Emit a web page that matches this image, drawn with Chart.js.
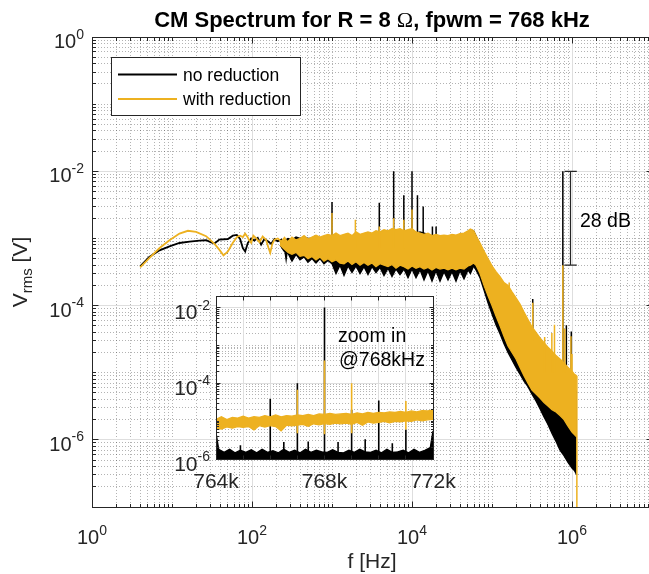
<!DOCTYPE html>
<html>
<head>
<meta charset="utf-8">
<script src="https://cdn.jsdelivr.net/npm/chart.js@4.4.0/dist/chart.umd.min.js"></script>
<style>
  html, body { margin: 0; padding: 0; overflow: hidden; background: #fff; }
  #wrap { position: relative; width: 649px; height: 574px; overflow: hidden; }
  #mainChart { position: absolute; left: 0; top: 0; }
  #zoomChart { position: absolute; left: 150px; top: 280px; }
</style>
</head>
<body>
<div id="wrap">
  <canvas id="mainChart" width="660" height="574"></canvas>
  <canvas id="zoomChart" width="310" height="215"></canvas>
</div>
<script>
const FONT = '"Liberation Sans", Arial, Helvetica, sans-serif'
const SERIF = '"Liberation Serif", "Times New Roman", serif'
const BLACK = '#000000'
const ORANGE = '#EDB120'
const AXIS = '#262626'
const MAJOR_GRID = '#dedede'
const MINOR_GRID = 'rgba(38,38,38,0.35)'

const seriesNames = ['no reduction', 'with reduction']
const seriesColors = [BLACK, ORANGE]
const xTickExp = [0, 2, 4, 6]
const yTickExp = [0, -2, -4, -6]

// low frequency part, single traces (Hz, Vrms)
const lfBlackF = [4, 5.2, 7, 9.3, 12.4, 16.6, 22, 26.7, 30.9, 34, 39, 50, 57.6, 64.6, 71, 76.8, 82.2, 88.7, 97.7, 107, 118, 130, 143, 158, 174, 191, 210, 232, 255, 267, 281, 309, 340, 374, 393]
const lfBlackV = [3.85e-4, 5.3e-4, 6.65e-4, 7.6e-4, 8.55e-4, 8.95e-4, 9.3e-4, 9.4e-4, 8.75e-4, 8.4e-4, 9.6e-4, 9.8e-4, 1.1e-3, 1.13e-3, 9.8e-4, 7.2e-4, 6.4e-4, 8.55e-4, 1.0e-3, 9.3e-4, 1.02e-3, 8.1e-4, 9.8e-4, 9.1e-4, 8.3e-4, 9.8e-4, 9.1e-4, 9.6e-4, 7.6e-4, 5.1e-4, 8.1e-4, 7.2e-4, 8.55e-4, 6.4e-4, 8.1e-4]
const lfOrangeF = [4, 5.2, 7, 9.3, 12.4, 15.8, 20, 26.7, 34, 39, 44, 50, 57.6, 65, 71, 77, 82, 88, 91, 97.7, 104, 113, 124, 136, 150, 161, 169, 179, 191, 210, 232, 255, 280, 310, 340, 375]
const lfOrangeV = [3.7e-4, 5.1e-4, 7.2e-4, 9.4e-4, 1.18e-3, 1.3e-3, 1.25e-3, 1.08e-3, 8.3e-4, 6.8e-4, 5.6e-4, 6.4e-4, 8.6e-4, 1.05e-3, 1.1e-3, 1.05e-3, 1.18e-3, 1.05e-3, 9.6e-4, 8.6e-4, 1.1e-3, 1.0e-3, 8.8e-4, 1.07e-3, 9.5e-4, 7.2e-4, 6.1e-4, 8.2e-4, 9.6e-4, 1.0e-3, 9.0e-4, 1.02e-3, 8.5e-4, 9.8e-4, 8.0e-4, 9.5e-4]

// noisy band: upper and lower envelope of each trace
const bandF = [224, 251, 282, 316, 355, 398, 447, 501, 562, 631, 708, 794, 891,
  1000, 1122, 1259, 1413, 1585, 1778, 1995, 2239, 2512, 2818, 3162, 3548, 3981, 4467, 5012, 5623, 6310, 7079, 7943, 8913,
  10000, 11220, 12589, 14125, 15849, 17783, 19953, 22387, 25119, 28184, 31623, 35481, 39811, 44668, 50119, 53703, 58884, 63096,
  70795, 79433, 89125, 100000, 112202, 125893, 141254, 158489, 177828, 199526, 223872, 251189, 281838, 316228, 354813, 398107, 446684, 501187, 562341, 630957, 707946, 794328, 891251,
  1000000, 1071519, 1148154]
const orangeHi = [8.8e-4, 9.5e-4, 9.0e-4, 1.05e-3, 9.5e-4, 1.0e-3, 1.1e-3, 9.8e-4, 1.05e-3, 1.12e-3, 1.05e-3, 1.1e-3, 1.15e-3,
  1.1e-3, 1.2e-3, 1.1e-3, 1.15e-3, 1.2e-3, 1.1e-3, 1.25e-3, 1.15e-3, 1.2e-3, 1.25e-3, 1.2e-3, 1.3e-3, 1.25e-3, 1.35e-3, 1.3e-3, 1.4e-3, 1.35e-3, 1.4e-3, 1.3e-3, 1.35e-3,
  1.4e-3, 1.25e-3, 1.2e-3, 1.15e-3, 1.2e-3, 1.1e-3, 1.15e-3, 1.1e-3, 1.12e-3, 1.1e-3, 1.15e-3, 1.12e-3, 1.18e-3, 1.2e-3, 1.3e-3, 1.38e-3, 1.3e-3, 1.1e-3,
  8.5e-4, 6.5e-4, 5.0e-4, 3.9e-4, 3.2e-4, 2.7e-4, 2.2e-4, 2.0e-4, 1.6e-4, 1.3e-4, 1.05e-4, 8.0e-5, 6.2e-5, 4.8e-5, 4.0e-5, 3.3e-5, 2.8e-5, 2.4e-5, 2.1e-5, 1.8e-5, 1.6e-5, 1.4e-5, 1.2e-5,
  1.05e-5, 9.5e-6, 9.0e-6]
const orangeLo = [8.0e-4, 7.0e-4, 6.2e-4, 5.8e-4, 6.2e-4, 5.4e-4, 5.6e-4, 5.0e-4, 5.4e-4, 4.8e-4, 5.3e-4, 4.6e-4, 5.0e-4,
  4.5e-4, 4.8e-4, 4.3e-4, 4.2e-4, 4.6e-4, 4.1e-4, 4.5e-4, 4.0e-4, 4.4e-4, 4.0e-4, 4.3e-4, 3.8e-4, 4.2e-4, 4.0e-4, 3.8e-4, 4.1e-4, 3.6e-4, 4.0e-4, 3.8e-4, 3.5e-4,
  3.9e-4, 3.6e-4, 3.8e-4, 3.5e-4, 3.7e-4, 3.4e-4, 3.7e-4, 3.5e-4, 3.6e-4, 3.4e-4, 3.6e-4, 3.4e-4, 3.6e-4, 3.5e-4, 3.9e-4, 4.0e-4, 4.3e-4, 4.0e-4,
  3.0e-4, 2.0e-4, 1.4e-4, 1.0e-4, 7.0e-5, 5.0e-5, 3.5e-5, 2.5e-5, 2.0e-5, 1.6e-5, 1.2e-5, 9.0e-6, 7.0e-6, 5.5e-6, 4.8e-6, 4.2e-6, 3.6e-6, 3.2e-6, 2.8e-6, 2.6e-6, 2.3e-6, 2.0e-6, 1.6e-6,
  1.3e-6, 1.2e-6, 1.1e-6]
const blackHi = [8.6e-4, 9.2e-4, 1.0e-3, 9.5e-4, 1.05e-3, 1.0e-3, 1.05e-3, 1.0e-3, 1.0e-3, 1.05e-3, 1.0e-3, 1.05e-3, 1.1e-3,
  1.05e-3, 1.1e-3, 1.05e-3, 1.1e-3, 1.15e-3, 1.05e-3, 1.2e-3, 1.1e-3, 1.15e-3, 1.2e-3, 1.15e-3, 1.25e-3, 1.2e-3, 1.3e-3, 1.25e-3, 1.3e-3, 1.3e-3, 1.35e-3, 1.25e-3, 1.3e-3,
  1.35e-3, 1.2e-3, 1.25e-3, 1.2e-3, 1.15e-3, 1.1e-3, 1.1e-3, 1.05e-3, 1.1e-3, 1.05e-3, 1.1e-3, 1.05e-3, 1.1e-3, 1.15e-3, 1.25e-3, 1.35e-3, 1.3e-3, 1.1e-3,
  8.0e-4, 6.0e-4, 4.5e-4, 3.5e-4, 2.8e-4, 2.3e-4, 1.9e-4, 1.6e-4, 1.3e-4, 1.05e-4, 8.5e-5, 6.5e-5, 5.2e-5, 4.0e-5, 3.3e-5, 2.7e-5, 2.2e-5, 1.9e-5, 1.6e-5, 1.4e-5, 1.2e-5, 1.0e-5, 8.5e-6,
  7.0e-6, 6.0e-6, 5.0e-6]
const blackLo = [8.0e-4, 6.5e-4, 6.0e-4, 4.6e-4, 5.8e-4, 4.8e-4, 5.3e-4, 4.4e-4, 5.0e-4, 4.3e-4, 5.0e-4, 4.2e-4, 4.7e-4,
  4.2e-4, 3.0e-4, 4.0e-4, 2.8e-4, 3.9e-4, 3.1e-4, 3.9e-4, 3.0e-4, 3.8e-4, 2.9e-4, 3.8e-4, 3.1e-4, 3.7e-4, 2.8e-4, 3.6e-4, 2.7e-4, 3.5e-4, 2.9e-4, 3.5e-4, 2.6e-4,
  3.5e-4, 2.6e-4, 3.4e-4, 2.4e-4, 3.3e-4, 2.3e-4, 3.3e-4, 2.3e-4, 3.2e-4, 2.4e-4, 3.2e-4, 2.3e-4, 3.3e-4, 2.5e-4, 3.4e-4, 3.0e-4, 3.9e-4, 3.4e-4,
  2.6e-4, 1.7e-4, 1.1e-4, 7.5e-5, 5.2e-5, 3.8e-5, 2.7e-5, 2.0e-5, 1.55e-5, 1.2e-5, 9.5e-6, 7.5e-6, 6.2e-6, 4.8e-6, 3.8e-6, 2.9e-6, 2.2e-6, 1.7e-6, 1.25e-6, 9.5e-7, 7.0e-7, 5.8e-7, 4.6e-7,
  3.8e-7, 3.5e-7, 3.0e-7]

// harmonic lines (frequency, peak, foot)
const blackSpikeF = [1000, 3900, 5900, 7900, 10000, 11700, 13800, 18000, 20000, 323000, 768000, 850000, 980000]
const blackSpikeTop = [3.5e-3, 3.4e-3, 1.0e-2, 4.4e-3, 1.0e-2, 4.4e-3, 3.0e-3, 1.5e-3, 1.5e-3, 1.25e-4, 1.0e-2, 5.1e-5, 4.1e-5]
const blackSpikeFoot = [6e-4, 6e-4, 6e-4, 6e-4, 6e-4, 6e-4, 6e-4, 6e-4, 6e-4, 2e-5, 5e-6, 3e-6, 2e-6]
const orangeSpikeF = [1000, 1960, 3900, 5900, 7900, 10000, 164000, 323000, 455000, 560000, 604000, 768000, 812000, 970000, 1000000, 1150000]
const orangeSpikeTop = [2.4e-3, 1.9e-3, 1.5e-3, 2.0e-3, 1.9e-3, 2.7e-3, 2.2e-4, 1.1e-4, 3.4e-5, 3.9e-5, 5.2e-5, 4.0e-4, 4.5e-5, 3.5e-5, 1.9e-5, 1e-9]
const orangeSpikeFoot = [7e-4, 7e-4, 7e-4, 7e-4, 7e-4, 7e-4, 1.5e-4, 3e-5, 1e-5, 1e-5, 1e-5, 1e-5, 1e-5, 1e-5, 1e-5, 9e-6]

// 28 dB bracket
const bracketCapF = [805000, 1148000]
const bracketF = 958000
const bracketTop = 1e-2
const bracketBottom = 4e-4

// zoomed view around 768 kHz (kHz, Vrms)
const zoomTickK = [764, 765, 766, 767, 768, 769, 770, 771, 772]
const zoomLabelK = [764, 768, 772]
const zoomYExp = [-2, -4, -6]
const zoomBlackF = [764.0, 764.1, 764.3, 764.5, 764.7, 764.9, 765.1, 765.3, 765.5, 765.7, 765.9, 766.1, 766.3, 766.5, 766.7, 766.9, 767.1, 767.3, 767.5, 767.7, 767.9,
  768.1, 768.3, 768.5, 768.7, 768.9, 769.1, 769.3, 769.5, 769.7, 769.9, 770.1, 770.3, 770.5, 770.7, 770.9, 771.1, 771.3, 771.5, 771.7, 771.9, 772.0]
const zoomBlackV = [5.0e-6, 1.8e-6, 1.5e-6, 1.8e-6, 1.45e-6, 1.7e-6, 1.5e-6, 1.75e-6, 1.45e-6, 1.8e-6, 1.5e-6, 1.65e-6, 1.45e-6, 1.8e-6, 1.5e-6, 1.7e-6, 1.45e-6, 1.8e-6, 1.5e-6, 1.7e-6, 1.55e-6,
  1.5e-6, 1.75e-6, 1.5e-6, 1.45e-6, 1.7e-6, 1.5e-6, 1.8e-6, 1.55e-6, 1.5e-6, 1.7e-6, 1.45e-6, 1.8e-6, 1.5e-6, 1.55e-6, 1.7e-6, 1.45e-6, 1.8e-6, 1.5e-6, 1.7e-6, 2.0e-6, 5.5e-6]
const zoomOrangeF = [764.0, 764.2, 764.4, 764.6, 764.8, 765.0, 765.2, 765.4, 765.6, 765.8, 766.0, 766.2, 766.4, 766.6, 766.8, 767.0, 767.2, 767.4, 767.6, 767.8,
  768.0, 768.2, 768.4, 768.6, 768.8, 769.0, 769.2, 769.4, 769.6, 769.8, 770.0, 770.2, 770.4, 770.6, 770.8, 771.0, 771.2, 771.4, 771.6, 771.8, 772.0]
const zoomOrangeHi = [1.1e-5, 1.3e-5, 1.1e-5, 1.25e-5, 1.2e-5, 1.35e-5, 1.2e-5, 1.3e-5, 1.25e-5, 1.4e-5, 1.3e-5, 1.45e-5, 1.3e-5, 1.4e-5, 1.35e-5, 1.45e-5, 1.4e-5, 1.5e-5, 1.4e-5, 1.55e-5,
  1.5e-5, 1.6e-5, 1.5e-5, 1.55e-5, 1.6e-5, 1.5e-5, 1.65e-5, 1.55e-5, 1.7e-5, 1.6e-5, 1.7e-5, 1.65e-5, 1.75e-5, 1.7e-5, 1.8e-5, 1.7e-5, 1.85e-5, 1.75e-5, 1.9e-5, 1.85e-5, 1.95e-5]
const zoomOrangeLo = [6.5e-6, 6.2e-6, 7.0e-6, 6.5e-6, 7.2e-6, 6.8e-6, 7.2e-6, 5.8e-6, 7.6e-6, 7.0e-6, 7.6e-6, 7.2e-6, 5.5e-6, 7.8e-6, 7.5e-6, 7.8e-6, 8.2e-6, 7.3e-6, 8.5e-6, 8.0e-6,
  8.6e-6, 8.2e-6, 8.8e-6, 8.5e-6, 8.8e-6, 8.2e-6, 9.2e-6, 7.8e-6, 9.5e-6, 8.8e-6, 9.2e-6, 9.8e-6, 9.0e-6, 9.8e-6, 9.5e-6, 1.02e-5, 9.8e-6, 1.08e-5, 1.02e-5, 1.08e-5, 1.12e-5]
const zoomBlackSpikeF = [764.9, 766, 766.5, 767, 767.4, 768, 768.5, 769, 769.5, 770, 770.5, 771]
const zoomBlackSpikeTop = [2.3e-6, 3.9e-5, 2.8e-6, 1.0e-4, 2.9e-6, 1.0e-2, 2.8e-6, 2.0e-5, 3.3e-6, 3.5e-5, 2.6e-6, 6e-6]
const zoomOrangeSpikeF = [767, 768, 769, 771]
const zoomOrangeSpikeTop = [6.7e-5, 4.0e-4, 1.0e-4, 3.4e-5]
const zoomOrangeSpikeFoot = [4.8e-6, 4.5e-6, 4.8e-6, 6e-6]

const pts = (xs, ys) => xs.map((x, i) => ({ x, y: ys[i] }))

function spikes(xs, tops, foots) {
  const out = []
  xs.forEach((x, i) => {
    const foot = Array.isArray(foots) ? foots[i] : foots
    out.push({ x, y: foot }, { x, y: tops[i] }, { x, y: null })
  })
  return out
}

function lineSet(data, color, extra) {
  return Object.assign({
    data,
    borderColor: color,
    backgroundColor: color,
    borderWidth: 1.3,
    pointRadius: 0,
    tension: 0,
    fill: false,
  }, extra)
}

function logSteps(minExp, maxExp) {
  const out = []
  for (let e = minExp; e < maxExp; e++) {
    for (let k = 1; k < 10; k++) out.push({ v: k * Math.pow(10, e), k, e })
  }
  out.push({ v: Math.pow(10, maxExp), k: 1, e: maxExp })
  return out
}

const crisp = (p) => Math.round(p - 0.5) + 0.5

function drawGrid(ctx, a, xs, ys) {
  ctx.lineWidth = 1
  ctx.setLineDash([1, 2])
  ctx.strokeStyle = MINOR_GRID
  xs.filter((t) => !t.major).forEach((t) => {
    ctx.beginPath(); ctx.moveTo(crisp(t.px), a.top); ctx.lineTo(crisp(t.px), a.bottom); ctx.stroke()
  })
  ys.filter((t) => !t.major).forEach((t) => {
    ctx.beginPath(); ctx.moveTo(a.left, crisp(t.px)); ctx.lineTo(a.right, crisp(t.px)); ctx.stroke()
  })
  ctx.setLineDash([])
  ctx.strokeStyle = MAJOR_GRID
  xs.filter((t) => t.major).forEach((t) => {
    ctx.beginPath(); ctx.moveTo(crisp(t.px), a.top); ctx.lineTo(crisp(t.px), a.bottom); ctx.stroke()
  })
  ys.filter((t) => t.major).forEach((t) => {
    ctx.beginPath(); ctx.moveTo(a.left, crisp(t.px)); ctx.lineTo(a.right, crisp(t.px)); ctx.stroke()
  })
}

function drawFrame(ctx, a, xs, ys, majorLen, minorLen) {
  ctx.setLineDash([])
  ctx.strokeStyle = AXIS
  ctx.lineWidth = 1
  const l = crisp(a.left), r = crisp(a.right), t = crisp(a.top), b = crisp(a.bottom)
  ctx.beginPath()
  xs.forEach((tk) => {
    const len = tk.major ? majorLen : minorLen
    const px = crisp(tk.px)
    ctx.moveTo(px, b); ctx.lineTo(px, b - len)
    ctx.moveTo(px, t); ctx.lineTo(px, t + len)
  })
  ys.forEach((tk) => {
    const len = tk.major ? majorLen : minorLen
    const py = crisp(tk.px)
    ctx.moveTo(l, py); ctx.lineTo(l + len, py)
    ctx.moveTo(r, py); ctx.lineTo(r - len, py)
  })
  ctx.stroke()
  ctx.strokeRect(l, t, r - l, b - t)
}

function drawPow(ctx, px, base, align, exp, size, expSize) {
  const expText = String(exp)
  ctx.font = `${size}px ${FONT}`
  const w1 = ctx.measureText('10').width
  ctx.font = `${expSize}px ${FONT}`
  const w2 = ctx.measureText(expText).width
  const left = align === 'center' ? px - (w1 + w2) / 2 : px - (w1 + w2)
  ctx.fillStyle = AXIS
  ctx.textAlign = 'left'
  ctx.textBaseline = 'alphabetic'
  ctx.font = `${size}px ${FONT}`
  ctx.fillText('10', left, base)
  ctx.font = `${expSize}px ${FONT}`
  ctx.fillText(expText, left + w1, base - size * 0.47)
}

const mainAxes = {
  id: 'mainAxes',
  ticks(chart) {
    const { x, y } = chart.scales
    return {
      xs: logSteps(0, 7).map((s) => ({ px: x.getPixelForValue(s.v), major: s.k === 1 && s.e % 2 === 0 })),
      ys: logSteps(-7, 0).map((s) => ({ px: y.getPixelForValue(s.v), major: s.k === 1 && s.e % 2 === 0 })),
    }
  },
  beforeDatasetsDraw(chart) {
    const { ctx, chartArea: a } = chart
    const { xs, ys } = this.ticks(chart)
    ctx.save()
    drawGrid(ctx, a, xs, ys)
    ctx.restore()
  },
  afterDatasetsDraw(chart) {
    const { ctx, chartArea: a, scales } = chart
    const { xs, ys } = this.ticks(chart)
    ctx.save()
    drawFrame(ctx, a, xs, ys, 6, 3.5)

    xTickExp.forEach((e) => drawPow(ctx, scales.x.getPixelForValue(Math.pow(10, e)), 544, 'center', e, 20, 14))
    yTickExp.forEach((e) => drawPow(ctx, 84, scales.y.getPixelForValue(Math.pow(10, e)) + 11, 'right', e, 20, 14))

    // title
    const cx = (a.left + a.right) / 2
    const parts = [
      ['CM Spectrum for R = 8 ', `bold 22px ${FONT}`],
      ['\u03A9', `22px ${SERIF}`],
      [', fpwm = 768 kHz', `bold 22px ${FONT}`],
    ]
    let total = 0
    parts.forEach(([txt, font]) => { ctx.font = font; total += ctx.measureText(txt).width })
    let tx = cx - total / 2
    ctx.fillStyle = BLACK
    ctx.textAlign = 'left'
    parts.forEach(([txt, font]) => { ctx.font = font; ctx.fillText(txt, tx, 27); tx += ctx.measureText(txt).width })

    // axis labels
    ctx.fillStyle = AXIS
    ctx.font = `21px ${FONT}`
    ctx.textAlign = 'center'
    ctx.fillText('f [Hz]', cx, 568)

    ctx.save()
    ctx.translate(27, (a.top + a.bottom) / 2)
    ctx.rotate(-Math.PI / 2)
    ctx.textAlign = 'left'
    ctx.font = `21px ${FONT}`
    const wV = ctx.measureText('V').width
    const wB = ctx.measureText(' [V]').width
    ctx.font = `15px ${FONT}`
    const wS = ctx.measureText('rms').width
    const sx = -(wV + wS + wB) / 2
    ctx.font = `21px ${FONT}`
    ctx.fillText('V', sx, 0)
    ctx.fillText(' [V]', sx + wV + wS, 0)
    ctx.font = `15px ${FONT}`
    ctx.fillText('rms', sx + wV, 5)
    ctx.restore()

    // legend
    ctx.fillStyle = '#fff'
    ctx.fillRect(111.5, 57.5, 189, 58)
    ctx.strokeStyle = AXIS
    ctx.lineWidth = 1
    ctx.strokeRect(111.5, 57.5, 189, 58)
    seriesNames.forEach((name, i) => {
      const yy = 74.5 + i * 24.5
      ctx.strokeStyle = seriesColors[i]
      ctx.lineWidth = 2
      ctx.beginPath(); ctx.moveTo(118, yy); ctx.lineTo(177, yy); ctx.stroke()
      ctx.fillStyle = BLACK
      ctx.font = `17.5px ${FONT}`
      ctx.textAlign = 'left'
      ctx.fillText(name, 183, yy + 6)
    })

    // bracket label
    ctx.font = `19.5px ${FONT}`
    ctx.fillStyle = BLACK
    ctx.fillText('28 dB', 580, 227)
    ctx.restore()
  },
}

const zoomAxes = {
  id: 'zoomAxes',
  ticks(chart) {
    const { x, y } = chart.scales
    const ys = logSteps(-6, -2).map((s) => ({ px: y.getPixelForValue(s.v), major: s.k === 1 && s.e % 2 === 0 }))
    ys.push({ px: y.getPixelForValue(0.02), major: false })
    return {
      xs: zoomTickK.map((k) => ({ px: x.getPixelForValue(k), major: true })),
      ys,
    }
  },
  beforeDatasetsDraw(chart) {
    const { ctx, chartArea: a } = chart
    const { xs, ys } = this.ticks(chart)
    ctx.save()
    ctx.fillStyle = '#fff'
    ctx.fillRect(a.left, a.top, a.right - a.left, a.bottom - a.top)
    drawGrid(ctx, a, xs, ys)
    ctx.restore()
  },
  afterDatasetsDraw(chart) {
    const { ctx, chartArea: a, scales } = chart
    const { xs, ys } = this.ticks(chart)
    ctx.save()
    drawFrame(ctx, a, xs, ys, 4, 2.5)
    ctx.fillStyle = AXIS
    ctx.font = `21px ${FONT}`
    ctx.textAlign = 'center'
    zoomLabelK.forEach((k) => ctx.fillText(`${k}k`, scales.x.getPixelForValue(k), 208))
    zoomYExp.forEach((e) => drawPow(ctx, 60, scales.y.getPixelForValue(Math.pow(10, e)) + 12, 'right', e, 21, 14))
    ctx.fillStyle = BLACK
    ctx.font = `19.5px ${FONT}`
    ctx.textAlign = 'left'
    ctx.fillText('zoom in', 188, 62)
    ctx.fillText('@768kHz', 189, 86)
    ctx.restore()
  },
}

const commonOptions = {
  responsive: false,
  animation: false,
  devicePixelRatio: 1,
  events: [],
  plugins: { legend: { display: false }, tooltip: { enabled: false }, title: { display: false } },
}

new Chart(document.getElementById('mainChart'), {
  type: 'line',
  data: {
    datasets: [
      lineSet([
        { x: bracketCapF[0], y: bracketTop }, { x: bracketCapF[1], y: bracketTop }, { x: bracketCapF[1], y: null },
        { x: bracketF, y: bracketTop }, { x: bracketF, y: bracketBottom }, { x: bracketF, y: null },
        { x: bracketCapF[0], y: bracketBottom }, { x: bracketCapF[1], y: bracketBottom },
      ], AXIS, { order: 0, borderWidth: 1.2 }),
      lineSet(spikes(orangeSpikeF, orangeSpikeTop, orangeSpikeFoot), ORANGE, { order: 1, borderWidth: 1.5 }),
      lineSet(pts(bandF, orangeHi), ORANGE, { order: 2, fill: '+1' }),
      lineSet(pts(bandF, orangeLo), ORANGE, { order: 3 }),
      lineSet(pts(lfOrangeF, lfOrangeV), ORANGE, { order: 4, borderWidth: 1.8 }),
      lineSet(spikes(blackSpikeF, blackSpikeTop, blackSpikeFoot), BLACK, { order: 5, borderWidth: 1.5 }),
      lineSet(pts(bandF, blackHi), BLACK, { order: 6, fill: '+1' }),
      lineSet(pts(bandF, blackLo), BLACK, { order: 7 }),
      lineSet(pts(lfBlackF, lfBlackV), BLACK, { order: 8, borderWidth: 1.8 }),
    ],
  },
  options: {
    ...commonOptions,
    layout: { padding: { left: 92, top: 37, right: 8, bottom: 67 } },
    scales: {
      x: { type: 'logarithmic', min: 1, max: 1e7, display: false },
      y: { type: 'logarithmic', min: 1e-7, max: 1, display: false },
    },
  },
  plugins: [mainAxes],
})

new Chart(document.getElementById('zoomChart'), {
  type: 'line',
  data: {
    datasets: [
      lineSet(spikes(zoomOrangeSpikeF, zoomOrangeSpikeTop, zoomOrangeSpikeFoot), ORANGE, { order: 0, borderWidth: 1.6 }),
      lineSet(pts(zoomOrangeF, zoomOrangeHi), ORANGE, { order: 1, fill: '+1' }),
      lineSet(pts(zoomOrangeF, zoomOrangeLo), ORANGE, { order: 2 }),
      lineSet(spikes(zoomBlackSpikeF, zoomBlackSpikeTop, 1.3e-6), BLACK, { order: 3, borderWidth: 1.6 }),
      lineSet(pts(zoomBlackF, zoomBlackV), BLACK, { order: 4, fill: 'start' }),
    ],
  },
  options: {
    ...commonOptions,
    layout: { padding: { left: 66, top: 16, right: 27, bottom: 36 } },
    scales: {
      x: { type: 'linear', min: 764, max: 772, display: false },
      y: { type: 'logarithmic', min: 1e-6, max: 0.02, display: false },
    },
  },
  plugins: [zoomAxes],
})
</script>
</body>
</html>
